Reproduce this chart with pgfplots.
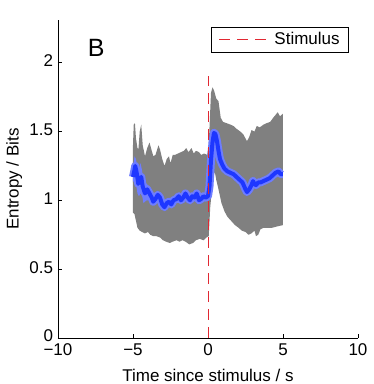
\documentclass[border=0pt]{standalone}
\usepackage{pgfplots}
\pgfplotsset{compat=1.18}
\usepackage{fontspec}
\setmainfont{Liberation Sans}

\definecolor{bandgrey}{RGB}{128,128,128}
\definecolor{meanblue}{RGB}{30,55,255}
\definecolor{lightblue}{RGB}{110,125,255}
\definecolor{stimred}{RGB}{225,40,50}

\begin{document}
\begin{tikzpicture}
\fontsize{17}{20}\selectfont
\begin{axis}[
    scale only axis,
    width=300pt, height=318pt,
    xmin=-10, xmax=10, ymin=0, ymax=2.31,
    axis lines=left,
    axis line style={-, black, line width=0.6pt},
    clip=false,
    xtick={-10,-5,0,5,10},
    xticklabels={−10,−5,0,5,10},
    ytick={0,0.5,1,1.5,2},
    yticklabels={0,0.5,1,1.5,2},
    tick align=inside,
    major tick length=4pt,
    tick style={black, line width=0.6pt},
    xticklabel style={yshift=0pt},
    yticklabel style={xshift=1pt, yshift=2pt},
    xlabel={Time since stimulus / s},
    ylabel={Entropy / Bits},
    xlabel style={inner sep=0pt, yshift=-7.5pt},
    ylabel style={inner sep=0pt, yshift=1.5pt},
    legend style={at={(axis description cs:0.97,0.978)}, anchor=north east,
        draw=black, line width=0.6pt, inner xsep=7pt, inner ysep=3pt,
        font=\fontsize{17}{20}\selectfont},
    legend cell align=left,
    legend image code/.code={\draw[#1] (0pt,0pt) -- (50pt,0pt); \path (53pt,0pt);},
]
% grey spread: upper edge left to right, then lower edge right to left
\addplot[fill=bandgrey, draw=none, forget plot] coordinates {
(-5.00,1.40) (-4.95,1.55) (-4.87,1.56) (-4.80,1.45) (-4.70,1.38) (-4.64,1.37)
(-4.55,1.50) (-4.45,1.55) (-4.35,1.40) (-4.20,1.32) (-4.05,1.38) (-3.90,1.42)
(-3.75,1.36) (-3.64,1.32) (-3.50,1.33) (-3.30,1.40) (-3.20,1.37) (-3.05,1.30)
(-2.90,1.25) (-2.75,1.30) (-2.60,1.32) (-2.50,1.27) (-2.35,1.33) (-2.20,1.33)
(-2.00,1.34) (-1.80,1.35) (-1.60,1.36) (-1.45,1.38) (-1.30,1.35) (-1.10,1.38)
(-0.95,1.34) (-0.80,1.36) (-0.60,1.35) (-0.45,1.33) (-0.25,1.34) (-0.05,1.33)
(0.05,1.40) (0.20,1.78) (0.30,1.82) (0.40,1.80) (0.55,1.74) (0.70,1.72)
(0.85,1.60) (1.00,1.57) (1.25,1.56) (1.50,1.55) (1.70,1.54) (1.90,1.52)
(2.15,1.50) (2.35,1.48) (2.50,1.45) (2.60,1.43) (2.75,1.46) (2.90,1.51)
(3.10,1.50) (3.25,1.54) (3.45,1.53) (3.70,1.55) (3.90,1.56) (4.15,1.57)
(4.35,1.60) (4.50,1.62) (4.65,1.64) (4.80,1.61) (5.00,1.63)
(5.00,0.82) (4.60,0.81) (4.25,0.80) (4.00,0.80) (3.70,0.80) (3.50,0.79)
(3.35,0.75) (3.20,0.74) (3.10,0.78) (2.90,0.76) (2.70,0.75) (2.50,0.77)
(2.25,0.78) (2.05,0.80) (1.80,0.82) (1.55,0.85) (1.30,0.88) (1.10,0.92)
(0.90,0.98) (0.70,1.08) (0.55,1.15) (0.45,1.21) (0.30,1.12) (0.15,0.95)
(0.05,0.74) (-0.10,0.73) (-0.30,0.71) (-0.55,0.72) (-0.80,0.71) (-1.00,0.69)
(-1.25,0.68) (-1.50,0.70) (-1.70,0.71) (-1.90,0.70) (-2.10,0.71) (-2.35,0.70)
(-2.55,0.69) (-2.80,0.70) (-3.00,0.71) (-3.20,0.73) (-3.45,0.74) (-3.65,0.74)
(-3.85,0.75) (-4.00,0.77) (-4.20,0.76) (-4.40,0.77) (-4.55,0.78) (-4.70,0.80)
(-4.80,0.85) (-4.90,0.90) (-5.00,0.91)
} -- cycle;
% wider light blue error band at the start
\addplot[fill=lightblue, draw=none, forget plot] coordinates {
(-5.00,1.22) (-4.90,1.32) (-4.80,1.30) (-4.70,1.22) (-4.60,1.23) (-4.50,1.27)
(-4.40,1.22) (-4.30,1.15) (-4.10,1.12) (-3.90,1.10) (-3.80,1.06)
(-3.80,0.98) (-3.90,1.00) (-4.10,1.00) (-4.30,0.98) (-4.40,1.04) (-4.50,1.05)
(-4.60,1.03) (-4.70,1.05) (-4.80,1.12) (-4.90,1.15) (-5.00,1.13)
} -- cycle;
\pgfplotstableread{
x y
-5.00 1.17
-4.90 1.22
-4.85 1.25
-4.75 1.20
-4.65 1.12
-4.55 1.15
-4.45 1.17
-4.35 1.10
-4.20 1.05
-4.05 1.08
-3.90 1.05
-3.75 1.02
-3.65 0.99
-3.50 1.01
-3.35 1.04
-3.20 1.02
-3.05 0.97
-2.90 0.95
-2.75 0.98
-2.60 0.99
-2.45 0.97
-2.30 1.00
-2.10 1.01
-1.95 1.03
-1.80 1.00
-1.65 1.02
-1.50 1.05
-1.35 1.02
-1.20 1.00
-1.05 1.03
-0.90 1.02
-0.75 1.05
-0.60 1.00
-0.45 1.01
-0.30 1.03
-0.15 1.02
0.00 1.03
0.10 1.10
0.20 1.29
0.30 1.42
0.40 1.49
0.50 1.48
0.60 1.43
0.70 1.36
0.80 1.30
0.95 1.26
1.10 1.23
1.30 1.21
1.50 1.20
1.70 1.19
1.90 1.17
2.10 1.15
2.30 1.13
2.50 1.08
2.60 1.06
2.75 1.08
2.90 1.11
3.00 1.14
3.10 1.12
3.20 1.11
3.35 1.13
3.50 1.13
3.70 1.14
3.90 1.15
4.10 1.16
4.30 1.18
4.50 1.20
4.70 1.21
4.85 1.19
5.00 1.19
}\meandata
\addplot[lightblue, line width=8pt, line join=round, forget plot] table {\meandata};
\addplot[meanblue, line width=4pt, line join=round, forget plot] table {\meandata};
% stimulus marker
\addplot[stimred, line width=0.8pt, dash pattern=on 11pt off 7pt] coordinates {(0,0) (0,1.9)};
\addlegendentry{Stimulus}
\node[font=\fontsize{25}{28}\selectfont] at (axis cs:-7.45,2.11) {B};
% page extent of the original figure
\path (axis description cs:-0.1933,-0.1447) rectangle (axis description cs:1.0533,1.0629);
\end{axis}
\end{tikzpicture}
\end{document}
